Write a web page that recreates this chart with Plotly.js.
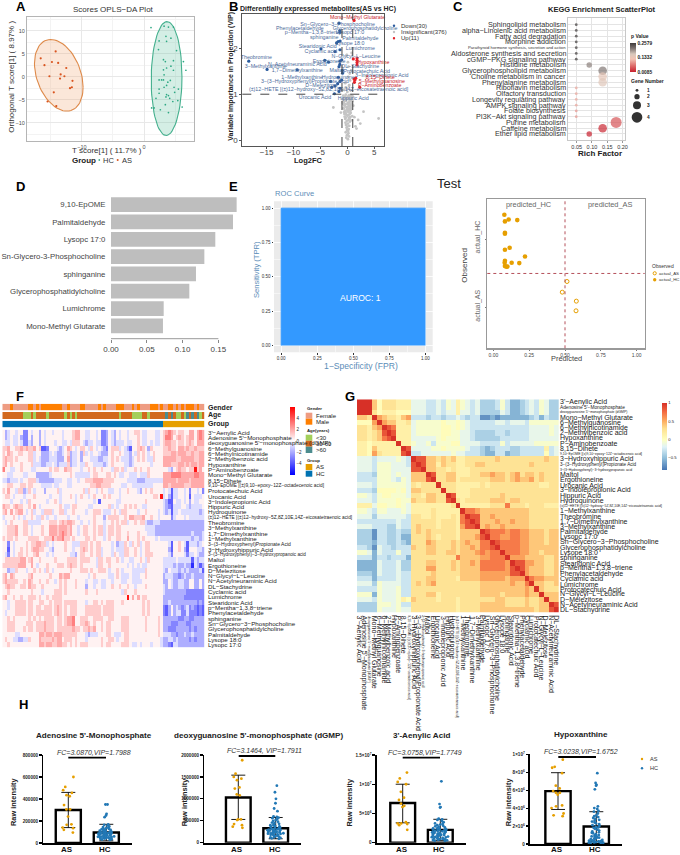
<!DOCTYPE html>
<html><head><meta charset="utf-8">
<script src="https://cdn.plot.ly/plotly-3.0.1.min.js"></script>
<style>html,body{margin:0;padding:0;background:#fff}#c{width:680px;height:855px}</style>
</head><body><div id="c"></div>
<script>
// ---------- Panel A ----------
const aAsX=[-14.2,-16.6,-14.8,-13.8,-16.0,-12.5,-13.4,-15.2,-13.5,-12.8,-11.5,-11.6,-11.9,-14.5,-15.5,-14.1];
const aAsY=[5.5,4.0,3.2,3.0,2.5,1.9,0.5,0.1,-0.4,0.1,-0.9,-2.3,-2.5,-3.4,-5.4,-6.4];
const aHcX=[1.1,3.2,3.9,4.7,2.4,3.6,4.3,3.5,5.2,2.3,3.1,3.4,4.7,4.3,6.3,6.7,4.7,3.6,3.1,3.2,2.8,2.4,3.1,4.2,3.8,2.4,3.6,3.2,4.8,5.5,2.4,3.6,3.9,4.1,4.9,1.9,5.4,1.6,1.2,3.4,2.6,3.9,6.1,4.6,3.5];
const aHcY=[10.7,11.0,10.8,10.8,7.8,7.7,8.4,8.8,5.7,5.9,3.7,3.3,3.5,2.3,3.3,1.4,1.4,1.9,1.5,0.4,-0.7,-0.7,-0.7,-0.8,-1.2,-2.7,-1.9,-2.3,-2.3,-2.7,-3.6,-3.9,-4.1,-4.7,-3.4,-4.7,-5.2,-6.8,-6.8,-6.1,-7.2,-7.8,-6.6,-5.4,-4.4];
const aEllipseAS=[-13.7,0.3,3.9,7.8,-0.33];   // centre x, centre y, radius x, radius y, tilt
const aEllipseHC=[3.6,-0.4,2.47,12.4,0.03];
// ---------- Panel B ----------
const bDownX=[-1.55,-1.37,-1.4,-1.7,-2,-1.35,-4.9,-2.3,-1.37,-18.3,-3.5,-1.37,-1.55,-1.4,-14.9,-9.3,-4.2,-.93,-.9,-1.68,-3.1,-1.37,-1.37,-2.3,-2.4,-1.55,-2.9,-1.05,-1.8,-1.05];
const bDownY=[2.55,2.35,2.39,2.15,2.12,2.16,1.99,1.93,1.97,1.72,1.7,1.72,1.6,1.65,1.54,1.53,1.74,1.52,1.46,1.37,1.28,1.28,1.13,1.18,1.01,1.06,1.15,1.31,1.23,1.75];
const bUpX=[1.24,1.1,1.8,1.8,1.8,1.24,1.4,1.3,2.3,1.55,1.8];
const bUpY=[2.61,1.77,1.79,1.74,1.69,1.33,1.31,1.26,1.15,1.35,1.64];
const bGrayX=[.1,-.2,.3,-.1,.05,.2,-.3,.15,-.05,.25,-.15,.0,.35,-.25,.1,-.35,.45,-.1,.2,-.4,.3,.5,-.5,.05,-.2,.4,-.3,.6,-.6,.15,-.45,.55,-.05,.3,-.7,.7,.0,-.15,.45,-.55,.25,.65,-.35,.8,-.8,.1,.35,-.65,.75,-.25,.5,-.5,.9,-.9,.05,.6,-.1,.4,-.4,.2,.85,-.75,.3,-.3,.55,.7,-.6,.15,-.2,.45,.95,-.85,.25,.05,-.45,.65,.35,-.15,-.7,.75,.5,.1,-.35,.6,-.55,.2,.9,-.25,.4,.8,.0,-.05,.3,-.4,.5,.15,.45,.7,-.6,.2,.1,-.1,.6,.35,-.3,5.8,2,3,-2.6,2.4,1.7,-.75,.8,-.1,1.3,-1.2,1.5,1.1,.95];
const bGrayY=[.02,.05,.08,.1,.12,.15,.17,.2,.22,.24,.27,.29,.31,.33,.36,.38,.4,.42,.44,.46,.48,.5,.51,.53,.55,.56,.58,.6,.61,.62,.64,.65,.66,.68,.69,.7,.71,.72,.73,.75,.76,.77,.78,.79,.8,.81,.82,.83,.84,.85,.86,.87,.88,.89,.9,.91,.92,.93,.94,.95,.96,.97,.98,.99,.98,.95,.93,.91,.89,.87,.85,.83,.81,.79,.77,.75,.73,.71,.69,.67,.65,.63,.61,.59,.57,.55,.52,.49,.46,.43,1.05,1.12,1.18,1.24,1.3,1.38,1.45,1.52,1.1,1.6,1.7,1.85,1.08,1.2,1.15,.47,.44,.62,.71,.36,.25,.8,1.9,1.86,.5,.6,.3,.75,.95];
const bLabelDown=["Sn−Glycero−3−Phosphocholine","Glycerophosphatidylcholine","Phenylacetaldehyde","p−Mentha−1,3,8−triene","Lysopc 17:0","Palmitaldehyde","sphinganine","Lysope 18:0","Stearidonic Acid","Lumichrome","Cyclamic acid","N−Glycyl−L−Leucine","Ergothioneine","Theobromine","N−Acetylneuraminic Acid","DL−Stachydrine","3−Methylxanthine","1,7−Dimethylxanthine","Maltol","Protocatechuic Acid","1−Methylxanthine","Hydroquinone","3−Indolepropionic Acid","3−(3−Hydroxyphenyl)Propionate Acid","D−Melezitose","(±)12−HETE [(±)12−hydroxy−5Z,8Z,10E,14Z−eicosatetraenoic acid]","3−(3−Hydroxyphenyl)−3−hydroxypropanoic acid","Urocanic Acid","Hippuric Acid"];
const bLabelDownX=[-1.8,3.3,-8.8,-6.5,.5,2.4,-4.3,.5,-5.5,2.4,-4.9,1.6,-3.4,-16.9,-9.3,2.4,-15.2,-9.3,-2,3.6,-8.4,-1.7,6.4,-7.9,-4.8,-3.5,11.4,-6,1.1];
const bLabelDownY=[2.52,2.42,2.42,2.34,2.34,2.22,2.24,2.11,2.04,1.99,1.93,1.82,1.72,1.8,1.65,1.59,1.6,1.52,1.52,1.49,1.37,1.37,1.41,1.27,1.18,1.09,1.0,.92,.91];
const bLabelUp=["Mono−Methyl Glutarate","Hypoxanthine","8,15−Dihete","5−Methylguanosine","P−Aminobenzoate"];
const bLabelUpX=[1.9,4.8,6.1,6.4,6.0];
const bLabelUpY=[2.68,1.69,1.37,1.28,1.18];
// ---------- Panel C ----------
const cNames=["Sphingolipid metabolism","alpha−Linolenic acid metabolism","Fatty acid degradation","Morphine addiction","Parathyroid hormone synthesis, secretion and action","Aldosterone synthesis and secretion","cGMP−PKG signaling pathway","Histidine metabolism","Glycerophospholipid metabolism","Choline metabolism in cancer","Phenylalanine metabolism","Riboflavin metabolism","Olfactory transduction","Longevity regulating pathway","AMPK signaling pathway","Folate biosynthesis","PI3K−Akt signaling pathway","Purine metabolism","Caffeine metabolism","Ether lipid metabolism"];
const cRich=[.0486,.0486,.0486,.0486,.0486,.0486,.0486,.091,.135,.135,.135,.0486,.0486,.0486,.0486,.0486,.0486,.179,.135,.091];
const cP=[.2579,.2579,.2579,.2579,.2579,.2579,.2579,.205,.21,.14,.15,.1,.1,.1,.1,.09,.09,.045,.015,.0085];
const cGene=[1,1,1,1,1,1,1,2,3,3,3,1,1,1,1,1,1,4,3,2];
const cGeneDiameter=[0,2.8,5.5,8.6,11];
// ---------- Panel D ----------
const dNames=["9,10-EpOME","Palmitaldehyde","Lysopc 17:0","Sn-Glycero-3-Phosphocholine","sphinganine","Glycerophosphatidylcholine","Lumichrome","Mono-Methyl Glutarate"];
const dValues=[.1755,.1704,.1457,.1304,.1187,.1094,.0736,.0726];
// ---------- Panel E ----------
const rocFpr=[0,0,1];
const rocTpr=[0,1,1];
const testHcX=[.077,.107,.081,.167,.081,.081,.114,.081,.221,.081,.079,.128,.181,.081,.093,.098];
const testHcY=[1.363,1.294,1.265,1.284,1.098,1.083,.877,.848,.75,.686,.657,.657,.652,.608,.598,.603];
const testAsX=[.514,.481,.579,.577];
const testAsY=[.382,.225,.093,-.049];
// ---------- Panel F ----------
const fRowNames=["3'−Aenylic Acid","Adenosine 5'−Monophosphate","deoxyguanosine 5'−monophosphate (dGMP)","6−Methylguanosine","6−Methylnicotinamide","2−Methylbenzoic acid","Hypoxanthine","P−Aminobenzoate","Mono−Methyl Glutarate","8,15−Dihete","9,10−EpOME [(±)9,10−epoxy−12Z−octadecenoic acid]","Protocatechuic Acid","Urocanic Acid","3−Indolepropionic Acid","Hippuric Acid","Hydroquinone","(±)12−HETE [(±)12−hydroxy−5Z,8Z,10E,14Z−eicosatetraenoic acid]","Theobromine","3−Methylxanthine","1,7−Dimethylxanthine","1−Methylxanthine","3−(3−Hydroxyphenyl)Propionate Acid","3−Hydroxyhippuric Acid","3−(3−Hydroxyphenyl)−3−hydroxypropanoic acid","Maltol","Ergothioneine","D−Melezitose","N−Glycyl−L−Leucine","N−Acetylneuraminic Acid","DL−Stachydrine","Cyclamic acid","Lumichrome","Stearidonic Acid","p−Mentha−1,3,8−triene","Phenylacetaldehyde","sphinganine","Sn−Glycero−3−Phosphocholine","Glycerophosphatidylcholine","Palmitaldehyde","Lysope 18:0","Lysopc 17:0"];
const fLevels=[-5,-3.8,-2.9,-1.9,-.8,.3,1.2,2,3,5.5];
const fRows=[
"5345545522 5455354554 5554555677 5544554522 3543545545 5665445554 45 67876566 55775787",
"5345445322 5355354555 5554555677 5544554522 3543545545 5565445554 45 68875676 56775787",
"5445445422 4355354555 4554454666 5434454422 3543444544 5565445454 45 67766566 56765777",
"6675566767 6675611255 5434576545 6654654543 2566645431 5567653655 55 66766577 67667666",
"6576556655 6645533345 4334563445 3645455433 3565565443 5465654565 55 66677677 76676677",
"6766565555 6645433344 4333573445 3555444334 4565654443 4565654465 55 77777667 77776677",
"6756555655 5644433445 4344463445 4465544443 4565555443 4555555455 55 77766677 67677677",
"8554455655 5445555565 6655766555 4556565565 5546656455 5656556555 55 55435676 65669675",
"5544555544 5553333345 5555556544 4444566555 6656544554 4454446555 55 77788887 77778877",
"4434445455 6664333333 4445544554 5566677776 6665555544 4433344444 44 77777677 77677777",
"5566555665 6655544445 4455544555 5555667766 6655554455 4444444455 55 77677777 66677777",
"6575546634 6545553555 5645555555 5646554565 5445545565 5543565655 55 45414455 45255452",
"5665455545 5565555545 5545556545 6554565556 5655545555 5555555566 59 45314455 45154445",
"5554555454 6555555455 6545555545 5555545155 5555445555 5555565555 55 43115445 45354455",
"7665676655 6575455555 5565445665 5554455555 5645455656 5655445555 55 43214445 54344445",
"6757567754 5645546664 5566455655 5545566654 4456546655 5545565555 45 43414454 44444434",
"4555654545 5654465455 4555545554 5555565553 5666655657 7666755655 45 55524555 45444444",
"5456555566 4444455566 6567677655 4554565554 5565656645 5656643344 43 33333333 33333333",
"5566675566 5455565577 7677767554 5665565664 5665665555 5555544443 33 33333333 33333333",
"5566675566 5455565577 7678767554 5665565664 5665665565 5565554443 33 33333333 33343334",
"6566565555 6666556668 6778665655 5566565554 5655665575 5565655554 54 44444444 44434434",
"5525455556 5667766454 5555655444 6665656655 5545344654 6564566555 55 55415565 41444345",
"5515455656 5677665543 5555655455 6765656645 5545444665 5654566555 55 55315565 31555443",
"5425456656 5567555454 5555554435 6655656645 5546544665 5654566655 55 55425555 42445433",
"5666666775 6755655555 6555566665 6666554665 6655654554 4556546555 55 44444544 44414344",
"6666667775 5754555655 5666567665 6555554665 5655555545 4545445555 55 44443433 43304313",
"5534465554 5565654654 5555556555 6665655666 5455654555 4444465555 55 43544434 34333341",
"6757655555 6755555565 5576775555 5554565555 5445654445 4445565555 55 34443323 43343333",
"6766665565 7655655655 4565655565 5545544544 5545554455 4444555555 55 33543344 33553353",
"5676655665 7665565555 5565655565 5535545544 5565565565 5455565555 55 43543344 33553353",
"5565555555 5655545555 6665655555 5565556555 5555554655 5655555555 55 43333333 32222222",
"6755655655 6665655656 6665555555 5555555555 5555555595 7575665555 55 33333333 22222222",
"5545566665 6655665565 6665666665 5545566565 6665556555 5555656555 55 33433333 33333232",
"5545566665 6656656665 6765656665 5566666656 6665555555 5555656555 55 21353432 34232121",
"5455566665 6656666665 6765656665 5566666656 6665555555 5555656555 55 21353442 24222121",
"5565655555 6565656666 5665677855 6665566665 5665556665 5555565555 65 33333322 33223333",
"5566655556 6656667666 5665677855 6676565565 6655556665 5555565555 65 33322233 32233333",
"5566655565 6656667666 5666666766 5667675565 6655556665 5555565555 65 33222333 33232333",
"5555544555 5555776776 7776666665 5543444555 6654445665 5555555555 65 44433233 43343333",
"5655443344 6555766667 6775666565 5545555565 5665455665 5555555555 54 33443433 33232333",
"5565555555 5555776776 6776656565 6665555565 6655556665 4454555455 54 33214433 33333333"];
const fGender="0001000000 1101011111 1110010000 1100000101 0000111000 1010000111 01 00110101 01110100";
const fAge="1111111100 0101111011 1111010101 1111111111 1111101111 0000110111 11 12121001 02121201";
const fGroup="1111111111 1111111111 1111111111 1111111111 1111111111 1111111111 11 00000000 00000000";
// ---------- Panel G ----------
const gRowNames=["3'−Aenylic Acid","Adenosine 5'−Monophosphate","deoxyguanosine 5'−monophosphate (dGMP)","Mono−Methyl Glutarate","6−Methylguanosine","6−Methylnicotinamide","2−Methylbenzoic acid","Hypoxanthine","P−Aminobenzoate","8,15−Dihete","9,10−EpOME [(±)9,10−epoxy−12Z−octadecenoic acid]","3−Hydroxyhippuric Acid","3−(3−Hydroxyphenyl)Propionate Acid","3−(3−Hydroxyphenyl)−3−hydroxypropanoic acid","Maltol","Ergothioneine","Urocanic Acid","3−Indolepropionic Acid","Hippuric Acid","Hydroquinone","(±)12−HETE [(±)12−hydroxy−5Z,8Z,10E,14Z−eicosatetraenoic acid]","1−Methylxanthine","Theobromine","1,7−Dimethylxanthine","3−Methylxanthine","Palmitaldehyde","Lysopc 17:0","Sn−Glycero−3−Phosphocholine","Glycerophosphatidylcholine","Lysope 18:0","sphinganine","Stearidonic Acid","p−Mentha−1,3,8−triene","Phenylacetaldehyde","Cyclamic acid","Lumichrome","Protocatechuic Acid","N−Glycyl−L−Leucine","D−Melezitose","N−Acetylneuraminic Acid","DL−Stachydrine"];
const gRowFont=[7,4.8,3.4,7,7,7,7,7,7,7,3.4,7,4.6,3.4,7,7,7,7,7,7,3.4,7,7,7,7,7,7,7,7,7,7,7,7,7,7,7,7,7,7,7,7];
const gColFont=[7,7,3.4,7,7,7,7,7,7,7,3.5,7,7,3.4,7,7,7,7,7,7,3.4,7,7,7,7,7,7,7,7,7,7,7,7,7,7,7,7,7,7,7,7];
const gLevels=[-.7,-.55,-.4,-.28,-.15,-.05,.03,.15,.27,.4,.55,.7,.85,1];
const gUpper=[
"ddd9688877 7444334354 7543422235 3112343542 2",
".dd9688877 7444334354 7543422235 3112343542 2",
"..d8677766 6444334344 7443422224 3112343542 2",
"...da98879 a333233233 4323300101 1111123132 2",
"....da9977 8455555655 6543333344 3444355555 5",
".....dcb77 7455555665 6543333333 3333344445 4",
"......dc77 7455555665 5443222233 2333344445 4",
".......d77 7444445655 5443222223 3333344444 4",
"........d7 7544535556 6444433335 3444445555 5",
".........d c444455655 5543321233 3223333373 4",
".......... d334444445 4433321133 1223333363 4",
".......... .dcc998989 7788888898 8888888898 8",
".......... ..dc997988 7788998888 8888898888 8",
".......... ...d998878 7778888888 8888888888 8",
".......... ....dc8899 7778899a99 89a8998988 8",
".......... .....d8899 7888888999 89a99a8988 8",
".......... ......d888 7777787888 8888888778 8",
".......... .......d88 7778888888 8888888888 8",
".......... ........dc 7778888889 8888888888 8",
".......... .........d 8788888999 8998888888 8",
".......... .......... d777777888 b888788877 7",
".......... .......... .dbba99999 9999988888 8",
".......... .......... ..dcc99a99 9999988888 8",
".......... .......... ...dc999a9 9a99988888 8",
".......... .......... ....d9a99a 9999988888 8",
".......... .......... .....dcbbb abbaa99989 9",
".......... .......... ......dbba abbaa99989 9",
".......... .......... .......dcb bbbaa99989 9",
".......... .......... ........db bbbaa99999 9",
".......... .......... .........d bbbaa99899 9",
".......... .......... .......... daaa999988 9",
".......... .......... .......... .dccaa9988 9",
".......... .......... .......... ..dca99988 9",
".......... .......... .......... ...da99988 9",
".......... .......... .......... ....dbaa99 9",
".......... .......... .......... .....d9988 9",
".......... .......... .......... ......d988 8",
".......... .......... .......... .......d99 9",
".......... .......... .......... ........d9 9",
".......... .......... .......... .........d c",
".......... .......... .......... .......... d"];
// ---------- Panel H ----------
const hTitles=["Adenosine 5'-Monophosphate","deoxyguanosine 5'-monophosphate (dGMP)","3'-Aenylic Acid","Hypoxanthine"];
const hGroups=["AS","HC"];
const hFc=["FC=3.0870,VIP=1.7988","FC=3.1464, VIP=1.7911","FC=3.0758,VIP=1.7749","FC=3.0238,VIP=1.6752"];
const hMeanAS=[300000,1030000,6.8e6,5.9e6];
const hMeanHC=[95000,330000,2.2e6,1.95e6];
const hUpAS=[460000,1540000,1.0e7,7.95e6];
const hLowAS=[140000,530000,3.4e6,3.85e6];
const hUpHC=[170000,575000,4.0e6,3.6e6];
const hLowHC=[20000,90000,.4e6,.3e6];
const hYMax=[800000,2000000,1.5e7,1e7];
const hTickVals=[[0,200000,400000,600000,800000],[0,500000,1000000,1500000,2000000],[0,5e6,1e7,1.5e7],[0,2e6,4e6,6e6,8e6,1e7]];
const hTickText=[["0","200000","400000","600000","800000"],["0","500000","1000000","1500000","2000000"],["0","5×10<sup>6</sup>","1×10<sup>7</sup>","1.5×10<sup>7</sup>"],["0","2×10<sup>6</sup>","4×10<sup>6</sup>","6×10<sup>6</sup>","8×10<sup>6</sup>","1×10<sup>7</sup>"]];
const hAS1=[600000,510000,480000,455000,435000,425000,345000,305000,305000,240000,170000,165000,140000,135000,120000,95000];
const hHC1=[350,350,265,250,235,170,165,160,150,145,140,135,130,128,125,120,118,115,112,110,108,105,103,100,98,96,94,92,90,88,86,85,84,82,80,78,76,75,74,72,70,68,66,65,64,62,60,58,56,55,54,52,50,48,46,45,42,40,38,35,32,28].map(v=>v*1000);
const hAS2=[1880000,1575000,1500000,1460000,1425000,1260000,1235000,1100000,1080000,530000,530000,515000,425000,400000,365000,340000];
const hHC2=[1300,1150,1000,900,780,720,600,590,570,560,540,520,500,480,460,450,430,420,400,390,380,370,360,350,340,330,320,310,305,300,295,290,285,280,275,270,265,260,255,250,245,240,235,230,225,220,215,210,205,200,195,190,180,170,160,150,140,130,120,110,100,90].map(v=>v*1000);
const hAS3=[12,11,10.4,10,8.7,7.7,7.3,6.7,6.3,6.1,3.5,3.3,3.3,3.2,3,2.2].map(v=>v*1e6);
const hHC3=[10.5,6.6,6.1,6,4.1,4,3.9,3.7,3.5,3.3,3.2,3.1,3,2.9,2.8,2.7,2.6,2.5,2.45,2.4,2.35,2.3,2.25,2.2,2.15,2.1,2.05,2,1.95,1.9,1.85,1.8,1.75,1.7,1.65,1.6,1.55,1.5,1.45,1.4,1.35,1.3,1.25,1.2,1.15,1.1,1.05,1,.95,.9,.85,.8,.75,.7,.65,.6,.55,.5,.45,.4,.35,.3].map(v=>v*1e6);
const hAS4=[9.4,8.6,8.5,7.9,6.5,6.2,5.9,5.7,5.7,5.5,4.3,4.2,4,3.4,3.2,3.1].map(v=>v*1e6);
const hHC4=[7.9,6.8,6.6,6.5,6.1,4.2,4,3.9,3.7,3.6,3.4,3.2,3.1,3,2.9,2.8,2.7,2.6,2.5,2.4,2.3,2.2,2.1,2,1.9,1.85,1.8,1.7,1.6,1.5,1.4,1.3,1.25,1.2,1.1,1,.95,.9,.85,.8,.75,.7,.65,.6,.55,.5,.45,.4,.38,.35,.32,.3,.28,.26,.24,.22,.2,.18,.16,.14,.12,.1].map(v=>v*1e6);
const hAS=[hAS1,hAS2,hAS3,hAS4], hHC=[hHC1,hHC2,hHC3,hHC4];

// ---------- helpers ----------
const W=680,H=855,FF='Liberation Sans, Arial, sans-serif';
const dx=(a,b)=>[a/W,b/W], dy=(t,b)=>[1-b/H,1-t/H];
const anns=[],shapes=[],traces=[];
const T=(text,x,y,size,o={})=>anns.push({xref:'paper',yref:'paper',x:x/W,y:1-y/H,text,showarrow:false,borderpad:0,
  xanchor:o.a||'center',yanchor:o.v||'middle',textangle:o.r||0,font:{family:FF,size,color:o.c||'#222'}});
const dot=(x,y,d,col,o={})=>shapes.push({type:'circle',xref:'paper',yref:'paper',x0:(x-d/2)/W,x1:(x+d/2)/W,y0:1-(y+d/2)/H,y1:1-(y-d/2)/H,fillcolor:o.hollow?'#fff':col,line:{color:col,width:o.hollow?1:0}});
const rect=(x0,y0,x1,y1,col)=>shapes.push({type:'rect',xref:'paper',yref:'paper',x0:x0/W,x1:x1/W,y0:1-y1/H,y1:1-y0/H,fillcolor:col,line:{width:0}});
const hline=(x0,x1,y,w,col)=>shapes.push({type:'line',xref:'paper',yref:'paper',x0:x0/W,x1:x1/W,y0:1-y/H,y1:1-y/H,line:{color:col,width:w}});
const ellipse=(p)=>{const xs=[],ys=[];for(let i=0;i<=72;i++){const t=i*Math.PI/36;xs.push(p[0]+p[2]*Math.cos(t));ys.push(p[1]+p[3]*Math.sin(t+Math.asin(p[4])));}return [xs,ys];};
const layout={width:W,height:H,margin:{l:0,r:0,t:0,b:0,autoexpand:false},paper_bgcolor:'#fff',plot_bgcolor:'rgba(0,0,0,0)',showlegend:false,font:{family:FF},hovermode:false,boxmode:'overlay'};
const cb={xpad:0,ypad:0,outlinewidth:0,ticks:'',xanchor:'left',yanchor:'top',thicknessmode:'pixels'};

// ---------- A ----------
const aE1=ellipse(aEllipseAS),aE2=ellipse(aEllipseHC);
traces.push({type:'scatter',mode:'lines',x:aE1[0],y:aE1[1],fill:'toself',fillcolor:'rgba(240,170,120,.28)',line:{color:'#DE8A4A',width:1.1},xaxis:'x',yaxis:'y'});
traces.push({type:'scatter',mode:'lines',x:aE2[0],y:aE2[1],fill:'toself',fillcolor:'rgba(90,190,155,.26)',line:{color:'#45B08E',width:1.1},xaxis:'x',yaxis:'y'});
traces.push({type:'scatter',mode:'markers',x:aAsX,y:aAsY,marker:{size:2.2,color:'#D9541E'},xaxis:'x',yaxis:'y'});
traces.push({type:'scatter',mode:'markers',x:aHcX,y:aHcY,marker:{size:1.7,color:'#2DA883'},xaxis:'x',yaxis:'y'});
layout.xaxis={domain:dx(27,194),range:[-18.8,8],tickvals:[-10,0],ticktext:['−10','0'],gridcolor:'#e8e8e8',minor:{dtick:5,showgrid:true,gridcolor:'#f3f3f3'},zeroline:false,showline:true,mirror:true,linecolor:'#b5b5b5',linewidth:1,ticks:'',tickfont:{size:5.5,color:'#4d4d4d'},anchor:'y'};
layout.yaxis={domain:dy(17,141),range:[-14,13],tickvals:[-10,-5,0,5,10],ticktext:['−10','−5','0','5','10'],gridcolor:'#e8e8e8',minor:{dtick:2.5,showgrid:true,gridcolor:'#f3f3f3'},zeroline:false,showline:true,mirror:true,linecolor:'#b5b5b5',linewidth:1,ticks:'',tickfont:{size:5.5,color:'#4d4d4d'},anchor:'x'};
T('Scores OPLS−DA Plot',114,9.3,8,{c:'#333'});
T('T score[1] ( 11.7% )',107,150,8,{c:'#333'});
T('Orthogonal T score[1] ( 8.97% )',11.7,77,8,{r:-90,c:'#333'});
T('<b>Group</b>',84,160,8,{c:'#222'});
dot(99.3,160,1.8,'#45B08E');T('HC',108,160,7.5,{c:'#333'});
dot(117.7,160,2,'#D9541E');T('AS',127,160,7.5,{c:'#333'});

// ---------- B ----------
traces.push({type:'scatter',mode:'markers',x:bGrayX,y:bGrayY,marker:{size:2.8,color:'#C4C4C4'},xaxis:'x2',yaxis:'y2'});
traces.push({type:'scatter',mode:'markers',x:bDownX,y:bDownY,marker:{size:3.2,color:'#2C5C9E'},xaxis:'x2',yaxis:'y2'});
traces.push({type:'scatter',mode:'markers',x:bUpX,y:bUpY,marker:{size:3.2,color:'#E3242B'},xaxis:'x2',yaxis:'y2'});
traces.push({type:'scatter',mode:'text',x:bLabelDownX,y:bLabelDownY,text:bLabelDown,textposition:'middle center',textfont:{size:5.3,color:'#4A6A9A',family:FF},cliponaxis:false,xaxis:'x2',yaxis:'y2'});
traces.push({type:'scatter',mode:'text',x:bLabelUpX,y:bLabelUpY,text:bLabelUp,textposition:'middle center',textfont:{size:5.3,color:'#C8232C',family:FF},cliponaxis:false,xaxis:'x2',yaxis:'y2'});
layout.xaxis2={domain:dx(242.3,384),range:[-19.5,6.8],tickvals:[-15,-10,-5,0,5],ticktext:['−15','−10','−5','0','5'],showgrid:false,zeroline:false,showline:true,mirror:true,linecolor:'#555',linewidth:1,ticks:'outside',ticklen:2,tickcolor:'#555',ticklabelstandoff:-4,tickfont:{size:8,color:'#444'},anchor:'y2'};
layout.yaxis2={domain:dy(14,146),range:[-.13,2.75],tickvals:[0,1,2],showgrid:false,zeroline:false,showline:true,mirror:true,linecolor:'#555',linewidth:1,ticks:'outside',ticklen:2,tickcolor:'#555',tickfont:{size:8,color:'#444'},anchor:'x2'};
for(const v of [-1,1])shapes.push({type:'line',xref:'x2',yref:'y2 domain',x0:v,x1:v,y0:0,y1:1,line:{color:'#444',width:1,dash:'dash'}});
shapes.push({type:'line',xref:'x2 domain',yref:'y2',x0:0,x1:1,y0:1,y1:1,line:{color:'#444',width:1,dash:'dash'}});
T('<b>Differentially expressed metabolites(AS vs HC)</b>',318.3,9,7,{c:'#222'});
T('<b>Log2FC</b>',307.7,160.7,7.5);
T('<b>Variable Importance in Projection (VIP)</b>',230.7,76,7,{r:-90});
dot(394,25.7,2.4,'#2C5C9E');T('Down(30)',400,25.7,6,{a:'left',c:'#333'});
dot(394,32,2.4,'#C4C4C4');T('Insignificant(376)',400,32,6,{a:'left',c:'#333'});
dot(394,38.3,2.4,'#E3242B');T('Up(11)',400,38.3,6,{a:'left',c:'#333'});

// ---------- C ----------
traces.push({type:'scatter',mode:'markers',x:cRich,y:cNames.map((n,i)=>i),marker:{size:cGene.map(g=>cGeneDiameter[g]),color:cP,cmin:.0085,cmax:.2579,
  colorscale:[[0,'#C7202E'],[.22,'#DE6E6C'],[.45,'#F2C4B5'],[.62,'#D8C8BC'],[.82,'#7C7270'],[1,'#3F3B3B']],line:{width:0},
  colorbar:Object.assign({},cb,{x:630/W,y:1-43/H,len:29/H,thickness:6,tickvals:[.0085,.1332,.2579],ticktext:['0.0085','0.1332','0.2579'],tickfont:{size:4.8,color:'#222',family:FF,weight:700}})},xaxis:'x3',yaxis:'y3'});
layout.xaxis3={domain:dx(568.3,625),range:[.0226,.208],tickvals:[.05,.1,.15,.2],ticktext:['0.05','0.10','0.15','0.20'],gridcolor:'#e4e4e4',zeroline:false,showline:true,mirror:true,linecolor:'#c8c8c8',linewidth:1,ticks:'outside',ticklen:1.5,tickcolor:'#999',tickfont:{size:5.5,color:'#333'},anchor:'y3'};
layout.yaxis3={domain:dy(18.3,140),range:[20.05,-1.11],tickmode:'array',tickvals:cNames.map((n,i)=>i),showticklabels:false,gridcolor:'#e4e4e4',zeroline:false,showline:true,mirror:true,linecolor:'#c8c8c8',linewidth:1,ticks:'',anchor:'x3'};
cNames.forEach((n,i)=>anns.push({xref:'paper',yref:'y3',x:566.7/W,y:i,text:n,showarrow:false,xanchor:'right',yanchor:'middle',borderpad:0,font:{family:FF,size:n.startsWith('Parathyroid')?4.2:7.2,color:'#333'}}));
T('<b>KEGG Enrichment ScatterPlot</b>',602.3,9,7.5);
T('<b>Rich Factor</b>',599.7,153.3,8);
T('<b>p Value</b>',630,36,5,{a:'left'});
T('<b>Gene Number</b>',630,80.7,5,{a:'left'});
[[90.3,2.8,'1'],[96.7,5.3,'2'],[105.3,8,'3'],[117.3,10.7,'4']].forEach(g=>{dot(637,g[0],g[1],'#333');T('<b>'+g[2]+'</b>',646,g[0],4.8,{a:'left'});});

// ---------- D ----------
traces.push({type:'bar',orientation:'h',x:dValues,y:dNames,width:.85,marker:{color:'#BEBEBE',line:{width:0}},xaxis:'x4',yaxis:'y4'});
layout.xaxis4={domain:dx(111,238),range:[0,.1774],tickvals:[0,.05,.1,.15],ticktext:['0.00','0.05','0.10','0.15'],showgrid:false,zeroline:false,ticks:'outside',ticklen:3,tickcolor:'#888',tickfont:{size:8,color:'#444'},anchor:'y4'};
layout.yaxis4={domain:dy(197,338.7),type:'category',categoryarray:dNames,range:[7.74,-.44],showgrid:false,zeroline:false,ticks:'outside',ticklen:3,tickcolor:'rgba(0,0,0,0)',tickfont:{size:7.8,color:'#444'},anchor:'x4'};
shapes.push({type:'line',xref:'x4',yref:'y4 domain',x0:0,x1:.15,y0:0,y1:0,line:{color:'#999',width:1}});

// ---------- E ROC ----------
traces.push({type:'scatter',mode:'lines',x:rocFpr,y:rocTpr,fill:'tozeroy',fillcolor:'#3399FF',line:{color:'#3399FF',width:1},xaxis:'x5',yaxis:'y5'});
const roct={tickvals:[0,.25,.5,.75,1],ticktext:['0.00','0.25','0.50','0.75','1.00'],gridcolor:'#fff',gridwidth:.8,zeroline:false,ticks:'outside',ticklen:1.5,tickcolor:'#333',tickfont:{size:4.5,color:'#333'}};
layout.xaxis5=Object.assign({domain:dx(274,432.7),range:[-.05,1.05],minor:{tickvals:[.125,.375,.625,.875],showgrid:true,gridcolor:'#fff',gridwidth:.5},anchor:'y5'},roct);
layout.yaxis5=Object.assign({domain:dy(201.3,352.3),range:[-.05,1.05],minor:{tickvals:[.125,.375,.625,.875],showgrid:true,gridcolor:'#fff',gridwidth:.5},anchor:'x5'},roct);
shapes.push({type:'rect',layer:'below',xref:'paper',yref:'paper',x0:274/W,x1:432.7/W,y0:1-352.3/H,y1:1-201.3/H,fillcolor:'#EBEBEB',line:{width:0}});
T('AUROC: 1',360,298.3,8.6,{c:'#fff'});
T('ROC Curve',274,194,7.6,{a:'left',c:'#5B8DB8'});
T('Sensitivity (TPR)',256,270,7.6,{r:-90,c:'#5B8DB8'});
T('1−Specificity (FPR)',361,365.5,8.6,{c:'#5B8DB8'});
T('Test',436,184,13,{a:'left',c:'#222'});

// ---------- Test ----------
traces.push({type:'scatter',mode:'markers',x:testHcX,y:testHcY,marker:{size:4.6,color:'#E69F00'},xaxis:'x6',yaxis:'y6'});
traces.push({type:'scatter',mode:'markers',x:testAsX,y:testAsY,marker:{size:4,color:'rgba(255,255,255,0)',line:{color:'#E69F00',width:1}},xaxis:'x6',yaxis:'y6'});
layout.xaxis6={domain:dx(487.3,644.7),range:[-.042,1.056],tickvals:[0,.25,.5,.75,1],ticktext:['0.00','0.25','0.50','0.75','1.00'],showgrid:false,zeroline:false,showline:true,mirror:true,linecolor:'#999',linewidth:1.2,ticks:'outside',ticklen:1.5,tickcolor:'#777',tickfont:{size:5,color:'#444'},anchor:'y6'};
layout.yaxis6={domain:dy(199.3,348.3),range:[-.6,1.59],tickvals:[0,1],showticklabels:false,showgrid:false,zeroline:false,showline:true,mirror:true,linecolor:'#999',linewidth:1.2,ticks:'outside',ticklen:1.5,tickcolor:'#777',anchor:'x6'};
shapes.push({type:'line',xref:'x6',yref:'y6 domain',x0:.5,x1:.5,y0:0,y1:1,line:{color:'#B5505A',width:1,dash:'dot'}});
shapes.push({type:'line',xref:'x6 domain',yref:'y6',x0:0,x1:1,y0:.5,y1:.5,line:{color:'#B5505A',width:1,dash:'dot'}});
T('predicted_HC',529.3,205,7.4,{c:'#666'});
T('predicted_AS',610,205,7.4,{c:'#666'});
T('actual_HC',477.7,236.7,7,{r:-90,c:'#666'});
T('actual_AS',477.7,306,7,{r:-90,c:'#666'});
T('Observed',464.7,265,8,{r:-90,c:'#444'});
T('Predicted',566.7,358,7.4,{c:'#444'});
T('Observed',651,265.7,5,{a:'left',c:'#333'});
dot(654.7,273.3,3.2,'#E69F00',{hollow:true});T('actual_AS',658,273.3,4.4,{a:'left',c:'#333'});
dot(654.7,279.7,3.4,'#E69F00');T('actual_HC',658,279.7,4.4,{a:'left',c:'#333'});

// ---------- F ----------
const strip=s=>s.replace(/ /g,'');
const fZ=fRows.map(r=>strip(r).padEnd(78,'5').slice(0,78).split('').map(c=>fLevels[+c]));
traces.push({type:'heatmap',z:fZ,zmin:-6,zmax:6,colorscale:[[0,'#0000FF'],[.5,'#FFFFFF'],[1,'#FF0000']],xaxis:'x7',yaxis:'y7',
  colorbar:Object.assign({},cb,{x:290/W,y:1-407/H,len:68/H,thickness:5,tickvals:[-4,-2,0,2,4],ticktext:['−4','−2','0','2','4'],tickfont:{size:4.5,color:'#222',family:FF}})});
const strRow=s=>[strip(s).split('').map(Number)];
traces.push({type:'heatmap',z:strRow(fGender),zmin:0,zmax:1,showscale:false,colorscale:[[0,'#EE9C82'],[1,'#FF7F00']],xaxis:'x7',yaxis:'y8'});
traces.push({type:'heatmap',z:strRow(fAge),zmin:0,zmax:2,showscale:false,colorscale:[[0,'#A4CF5A'],[.5,'#D2691E'],[1,'#4C8C8E']],xaxis:'x7',yaxis:'y9'});
traces.push({type:'heatmap',z:strRow(fGroup),zmin:0,zmax:1,showscale:false,colorscale:[[0,'#E69F00'],[1,'#0072B2']],xaxis:'x7',yaxis:'y10'});
const hide={showgrid:false,zeroline:false,showticklabels:false,ticks:'',showline:false};
layout.xaxis7=Object.assign({domain:dx(2.3,204.7),range:[-.5,77.5],anchor:'y7'},hide);
layout.yaxis7=Object.assign({domain:dy(429.7,647.3),range:[40.5,-.5],anchor:'x7'},hide);
layout.yaxis8=Object.assign({domain:dy(403.7,410.3),range:[-.5,.5],anchor:'x7'},hide);
layout.yaxis9=Object.assign({domain:dy(412,419),range:[-.5,.5],anchor:'x7'},hide);
layout.yaxis10=Object.assign({domain:dy(420.7,427.3),range:[-.5,.5],anchor:'x7'},hide);
fRowNames.forEach((n,i)=>{const small=/HETE|EpOME/.test(n)?4.8:/3−\(3/.test(n)?(/Propionate/.test(n)?5:4.6):6.2;
  anns.push({xref:'paper',yref:'y7',x:206.7/W,y:i,text:n,showarrow:false,xanchor:'left',yanchor:'middle',borderpad:0,font:{family:FF,size:small,color:'#222'}});});
T('<b>Gender</b>',206.7,407,7,{a:'left'});T('<b>Age</b>',206.7,415.5,7,{a:'left'});T('<b>Group</b>',206.7,424,7,{a:'left'});
T('<b>Gender</b>',305.7,408.3,4.3,{a:'left'});
rect(305.7,412.7,312.3,418.7,'#EE9C82');T('Female',315,415.7,6,{a:'left'});
rect(305.7,418.7,312.3,424.7,'#FF7F00');T('Male',315,421.7,6,{a:'left'});
T('<b>Age(years)</b>',305.7,430.7,4.3,{a:'left'});
rect(305.7,434.7,312.3,440.7,'#A4CF5A');T('&lt;30',315,437.7,6,{a:'left'});
rect(305.7,440.7,312.3,446.7,'#D2691E');T('30-60',315,443.7,6,{a:'left'});
rect(305.7,446.7,312.3,453,'#4C8C8E');T('&gt;60',315,450,6,{a:'left'});
T('<b>Group</b>',305.7,460.7,4.3,{a:'left'});
rect(305.7,464,312.3,470,'#E69F00');T('AS',315,467,6,{a:'left'});
rect(305.7,470.7,312.3,476.7,'#0072B2');T('HC',315,473.7,6,{a:'left'});

// ---------- G ----------
const gN=gRowNames.length;
const gZ=gRowNames.map(()=>new Array(gN).fill(0));
gUpper.forEach((r,i)=>{const s=strip(r);for(let j=i;j<gN;j++){const v=gLevels[parseInt(s[j],16)];gZ[i][j]=v;gZ[j][i]=v;}});
const gScale=[[0,'#4575B4'],[.18,'#91BFDB'],[.344,'#E0F3F8'],[.4536,'#FFFFBF'],[.6175,'#FEE090'],[.727,'#FDAE61'],[.863,'#F46D43'],[1,'#D73027']];
traces.push({type:'heatmap',z:gZ,zmin:-.83,zmax:1,colorscale:gScale,xaxis:'x8',yaxis:'y11',
  colorbar:Object.assign({},cb,{x:662/W,y:1-403/H,len:67/H,thickness:5,tickvals:[-.5,0,.5,1],ticktext:['−0.5','0','0.5','1'],tickfont:{size:4.2,color:'#222',family:FF}})});
layout.xaxis8=Object.assign({domain:dx(357,558.7),range:[-.5,40.5],anchor:'y11'},hide);
layout.yaxis11=Object.assign({domain:dy(399.3,612.7),range:[40.5,-.5],anchor:'x8'},hide);
gRowNames.forEach((n,i)=>{
  anns.push({xref:'paper',yref:'y11',x:559.3/W,y:i,text:n,showarrow:false,xanchor:'left',yanchor:'middle',borderpad:0,font:{family:FF,size:gRowFont[i],color:'#222'}});
  anns.push({xref:'x8',yref:'paper',x:i,y:1-614.5/H,text:n,showarrow:false,xanchor:'center',yanchor:'top',textangle:90,borderpad:0,font:{family:FF,size:gColFont[i],color:'#222'}});
});

// ---------- H ----------
const hGeom=[{ax:43.3,end:131.7,top:755,bot:843,c0:68.3,p:38,tx:93.7,ty:735,fx:94.3,fy:752.7,s0:68.3,s1:106,sy:757.7,yl:13},
 {ax:204.3,end:301,top:755,bot:842.7,c0:238.3,p:37.4,tx:258.7,ty:735,fx:264,fy:750.7,s0:238.7,s1:275.3,sy:756,yl:184.5},
 {ax:376.7,end:465.7,top:755,bot:842.7,c0:402.7,p:37.6,tx:421,ty:735.3,fx:425.3,fy:752.7,s0:402.7,s1:440,sy:757.7,yl:349.7},
 {ax:530,end:622.3,top:754.3,bot:844,c0:558,p:38.3,tx:581.3,ty:734,fx:580.7,fy:751.7,s0:558.3,s1:596,sy:757,yl:508}];
hTitles.forEach((t,i)=>{
  const g=hGeom[i],xk='x'+(9+i),yk='y'+(12+i);
  traces.push({type:'bar',x:[0,1],y:[hMeanAS[i],hMeanHC[i]],width:.66,marker:{color:'#fff',line:{color:'#000',width:2.4}},
    error_y:{type:'data',symmetric:false,array:[hUpAS[i]-hMeanAS[i],hUpHC[i]-hMeanHC[i]],arrayminus:[hMeanAS[i]-hLowAS[i],hMeanHC[i]-hLowHC[i]],color:'#000',thickness:.9,width:7},xaxis:xk,yaxis:yk});
  [[hAS[i],0,'#E69F00'],[hHC[i],1,'#2278B5']].forEach(p=>traces.push({type:'box',x0:p[1],y:p[0],boxpoints:'all',jitter:.75,pointpos:0,width:.62,fillcolor:'rgba(0,0,0,0)',line:{width:0,color:'rgba(0,0,0,0)'},marker:{size:2.8,color:p[2]},xaxis:xk,yaxis:yk}));
  layout['xaxis'+(9+i)]={domain:dx(g.ax,g.end),range:[(g.ax-g.c0)/g.p,(g.end-g.c0)/g.p],tickvals:[0,1],showticklabels:false,showgrid:false,zeroline:false,showline:true,linecolor:'#000',linewidth:1.8,ticks:'',anchor:'y'+(12+i)};
  layout['yaxis'+(12+i)]={domain:dy(g.top,g.bot),range:[0,hYMax[i]],tickvals:hTickVals[i],ticktext:hTickText[i],showgrid:false,zeroline:false,showline:true,linecolor:'#000',linewidth:1.8,ticks:'outside',ticklen:2.5,tickwidth:1.2,tickcolor:'#000',tickfont:{size:4.6,color:'#222',weight:700,family:FF},anchor:'x'+(9+i)};
  hGroups.forEach((n,k)=>anns.push({xref:xk,yref:'paper',x:k-.03,y:1-849.3/H,text:'<b>'+n+'</b>',showarrow:false,xanchor:'center',yanchor:'middle',borderpad:0,font:{family:FF,size:8,color:'#111'}}));
  T('<b>'+t+'</b>',g.tx,g.ty,8.1,{c:'#222'});
  T('<i>'+hFc[i]+'</i>',g.fx,g.fy,7,{c:'#333'});
  hline(g.s0,g.s1,g.sy,1.8,'#000');
  T('<b>Raw intensity</b>',g.yl,(g.top+g.bot)/2+3,7.4,{r:-90,c:'#222'});
});
dot(642,759,2.4,'#E69F00');T('AS',649,759,5.6,{a:'left',c:'#333'});
dot(642,768.3,2.4,'#2278B5');T('HC',649,768.3,5.6,{a:'left',c:'#333'});

// ---------- panel letters ----------
[['A',20.7,7],['B',233,6],['C',458,6],['D',20.7,186],['E',233,186],['F',20,397],['G',350,397],['H',23.3,704]].forEach(l=>T('<b>'+l[0]+'</b>',l[1],l[2],13,{c:'#000'}));

layout.annotations=anns;layout.shapes=shapes;
Plotly.newPlot('c',traces,layout,{staticPlot:true,displayModeBar:false});
</script></body></html>
